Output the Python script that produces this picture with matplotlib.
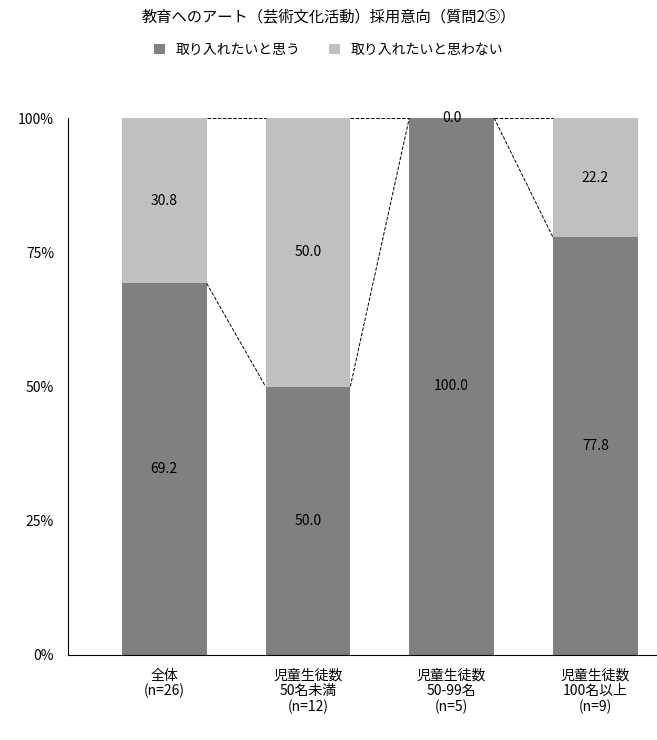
import matplotlib.pyplot as plt
import numpy as np

plt.rcParams['font.family'] = ['Noto Sans CJK JP', 'DejaVu Sans']

categories = ["全体\n(n=26)", "児童生徒数\n50名未満\n(n=12)", "児童生徒数\n50-99名\n(n=5)", "児童生徒数\n100名以上\n(n=9)"]
yes_vals = [69.2, 50.0, 100.0, 77.8]
no_vals = [30.8, 50.0, 0.0, 22.2]
series_names = ["取り入れたいと思う", "取り入れたいと思わない"]

dark = "#808080"
light = "#c0c0c0"
w = 0.59

fig = plt.figure(figsize=(6.57, 7.40), dpi=100)
ax = fig.add_axes([68 / 657, 1 - 655 / 740, 592 / 657, 537 / 740])
x = np.arange(len(categories))
b1 = ax.bar(x, yes_vals, w, color=dark, label=series_names[0])
b2 = ax.bar(x, no_vals, w, bottom=yes_vals, color=light, label=series_names[1])

for i in range(len(x)):
    ax.text(x[i], yes_vals[i] / 2, f"{yes_vals[i]:.1f}", ha="center", va="center", fontsize=10)
    ax.text(x[i], yes_vals[i] + no_vals[i] / 2 if no_vals[i] > 0 else 100, f"{no_vals[i]:.1f}",
            ha="center", va="center", fontsize=10)

# dashed connectors between bars
for i in range(len(x) - 1):
    ax.plot([x[i] + w / 2, x[i + 1] - w / 2], [yes_vals[i], yes_vals[i + 1]], "k--", lw=0.7)
    ax.plot([x[i] + w / 2, x[i + 1] - w / 2], [100, 100], "k--", lw=0.7)

ax.set_xlim(-0.67, 3.45)
ax.set_ylim(0, 100)
ax.set_yticks([0, 25, 50, 75, 100])
ax.set_yticklabels(["0%", "25%", "50%", "75%", "100%"], fontsize=10)
ax.set_xticks(x)
ax.set_xticklabels(categories, fontsize=10, linespacing=1.1)
ax.tick_params(length=0, pad=10)
ax.spines["top"].set_visible(False)
ax.spines["right"].set_visible(False)

fig.text(0.5, 1 - 17 / 740, "教育へのアート（芸術文化活動）採用意向（質問2⑤）", ha="center", va="center", fontsize=11)
fig.legend(handles=[b1, b2], loc="center", bbox_to_anchor=(0.5, 1 - 50 / 740), ncol=2,
           frameon=False, fontsize=10, handlelength=0.8, handleheight=0.8, columnspacing=2)

fig.savefig("out.png", dpi=100)
